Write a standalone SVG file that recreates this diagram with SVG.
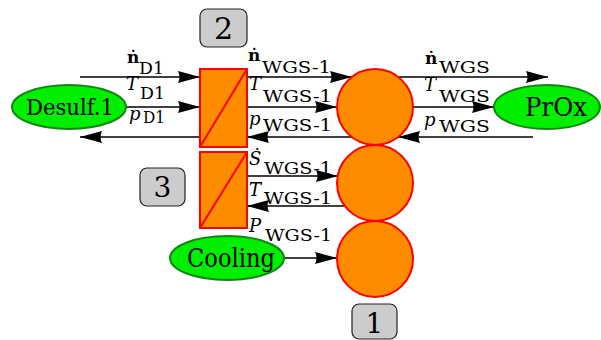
<svg xmlns="http://www.w3.org/2000/svg" width="601" height="340" viewBox="0 0 601 340">
<style>
.ln{stroke:#000;stroke-width:1.3;fill:none}
.hx{fill:#ff8c00;stroke:#ff0000;stroke-width:2}
.cr{fill:#ff8c00;stroke:#ff0000;stroke-width:2}
.el{fill:#00ee00;stroke:#118811;stroke-width:2}
.bx{fill:#cccccc;stroke:#222;stroke-width:1.2}
.t{font-family:"DejaVu Serif",serif;fill:#000}
.mi{font-family:"DejaVu Serif",serif;font-size:18px;font-style:italic;fill:#000}
.mb{font-family:"DejaVu Serif",serif;font-size:17px;font-weight:bold;fill:#000}
.sb{font-family:"DejaVu Serif",serif;font-size:17px;fill:#000}
</style>
<defs>
<marker id="ah" markerUnits="userSpaceOnUse" markerWidth="24" markerHeight="14" refX="22" refY="6" orient="auto">
<path d="M0,0 L22,6 L0,12 Q3,6 0,0 Z" fill="#000"/>
</marker>
</defs>
<g id="connectors">
<line class="ln" x1="80" y1="77" x2="200" y2="77" marker-end="url(#ah)"/>
<line class="ln" x1="126" y1="107" x2="200" y2="107" marker-end="url(#ah)"/>
<line class="ln" x1="200" y1="137" x2="80" y2="137" marker-end="url(#ah)"/>
<line class="ln" x1="247" y1="77" x2="352" y2="77" marker-end="url(#ah)"/>
<line class="ln" x1="247" y1="107" x2="337" y2="107" marker-end="url(#ah)"/>
<line class="ln" x1="352" y1="137" x2="247" y2="137" marker-end="url(#ah)"/>
<line class="ln" x1="398" y1="77" x2="548" y2="77" marker-end="url(#ah)"/>
<line class="ln" x1="413" y1="107" x2="494" y2="107" marker-end="url(#ah)"/>
<line class="ln" x1="533" y1="137" x2="398" y2="137" marker-end="url(#ah)"/>
<line class="ln" x1="247" y1="176" x2="338" y2="176" marker-end="url(#ah)"/>
<line class="ln" x1="345" y1="206" x2="247" y2="206" marker-end="url(#ah)"/>
<line class="ln" x1="284" y1="258" x2="337" y2="258" marker-end="url(#ah)"/>
</g>
<g id="labels">
<text class="mb" x="127" y="63">ṅ</text>
<text class="sb" x="139" y="74" textLength="25" lengthAdjust="spacingAndGlyphs">D1</text>
<text class="mi" x="126" y="90">T</text>
<text class="sb" x="140" y="99" textLength="25" lengthAdjust="spacingAndGlyphs">D1</text>
<text class="mi" x="129" y="120">p</text>
<text class="sb" x="143" y="123" textLength="22" lengthAdjust="spacingAndGlyphs">D1</text>
<text class="mb" x="248" y="61">ṅ</text>
<text class="sb" x="262" y="73" textLength="69" lengthAdjust="spacingAndGlyphs">WGS-1</text>
<text class="mi" x="249" y="90">T</text>
<text class="sb" x="263" y="102" textLength="69" lengthAdjust="spacingAndGlyphs">WGS-1</text>
<text class="mi" x="249" y="125">p</text>
<text class="sb" x="263" y="131" textLength="69" lengthAdjust="spacingAndGlyphs">WGS-1</text>
<text class="mi" x="249" y="165">Ṡ</text>
<text class="sb" x="264" y="174" textLength="68" lengthAdjust="spacingAndGlyphs">WGS-1</text>
<text class="mi" x="249" y="196">T</text>
<line x1="250" y1="183" x2="262" y2="183" stroke="#000" stroke-width="1"/>
<text class="sb" x="264" y="204" textLength="68" lengthAdjust="spacingAndGlyphs">WGS-1</text>
<text class="mi" x="249" y="232">P</text>
<text class="sb" x="265" y="241" textLength="67" lengthAdjust="spacingAndGlyphs">WGS-1</text>
<text class="mb" x="425" y="64">ṅ</text>
<text class="sb" x="439" y="73" textLength="51" lengthAdjust="spacingAndGlyphs">WGS</text>
<text class="mi" x="424" y="91">T</text>
<text class="sb" x="439" y="102" textLength="51" lengthAdjust="spacingAndGlyphs">WGS</text>
<text class="mi" x="424" y="126">p</text>
<text class="sb" x="439" y="132" textLength="51" lengthAdjust="spacingAndGlyphs">WGS</text>
</g>
<g id="hx1">
<rect class="hx" x="200" y="69" width="47" height="78"/>
<line x1="200" y1="147" x2="247" y2="69" stroke="#ff0000" stroke-width="2"/>
</g>
<g id="hx2">
<rect class="hx" x="200" y="152" width="47" height="76"/>
<line x1="200" y1="228" x2="247" y2="152" stroke="#ff0000" stroke-width="2"/>
</g>
<g id="c1"><circle class="cr" cx="375" cy="107" r="38"/></g>
<g id="c2"><circle class="cr" cx="375" cy="183" r="38"/></g>
<g id="c3"><circle class="cr" cx="375" cy="259" r="38"/></g>
<g id="desulf">
<ellipse class="el" cx="69" cy="107" rx="57" ry="22"/>
<text class="t" font-size="23" x="70" y="115" text-anchor="middle" textLength="88" lengthAdjust="spacingAndGlyphs">Desulf.1</text>
</g>
<g id="prox">
<ellipse class="el" cx="547" cy="107" rx="53" ry="22"/>
<text class="t" font-size="26" x="556" y="116" text-anchor="middle" textLength="62" lengthAdjust="spacingAndGlyphs">PrOx</text>
</g>
<g id="cooling">
<ellipse class="el" cx="227" cy="258" rx="57" ry="22"/>
<text class="t" font-size="26" x="231" y="267" text-anchor="middle" textLength="88" lengthAdjust="spacingAndGlyphs">Cooling</text>
</g>
<g id="box2">
<rect class="bx" x="200" y="9" width="47" height="38" rx="7"/>
<text class="t" font-size="30" x="223.5" y="39" text-anchor="middle">2</text>
</g>
<g id="box3">
<rect class="bx" x="140" y="168" width="45" height="38" rx="7"/>
<text class="t" font-size="28" x="162.5" y="197" text-anchor="middle">3</text>
</g>
<g id="box1">
<rect class="bx" x="352" y="304" width="45" height="35" rx="7"/>
<text class="t" font-size="28" x="374.5" y="333" text-anchor="middle">1</text>
</g>
</svg>
